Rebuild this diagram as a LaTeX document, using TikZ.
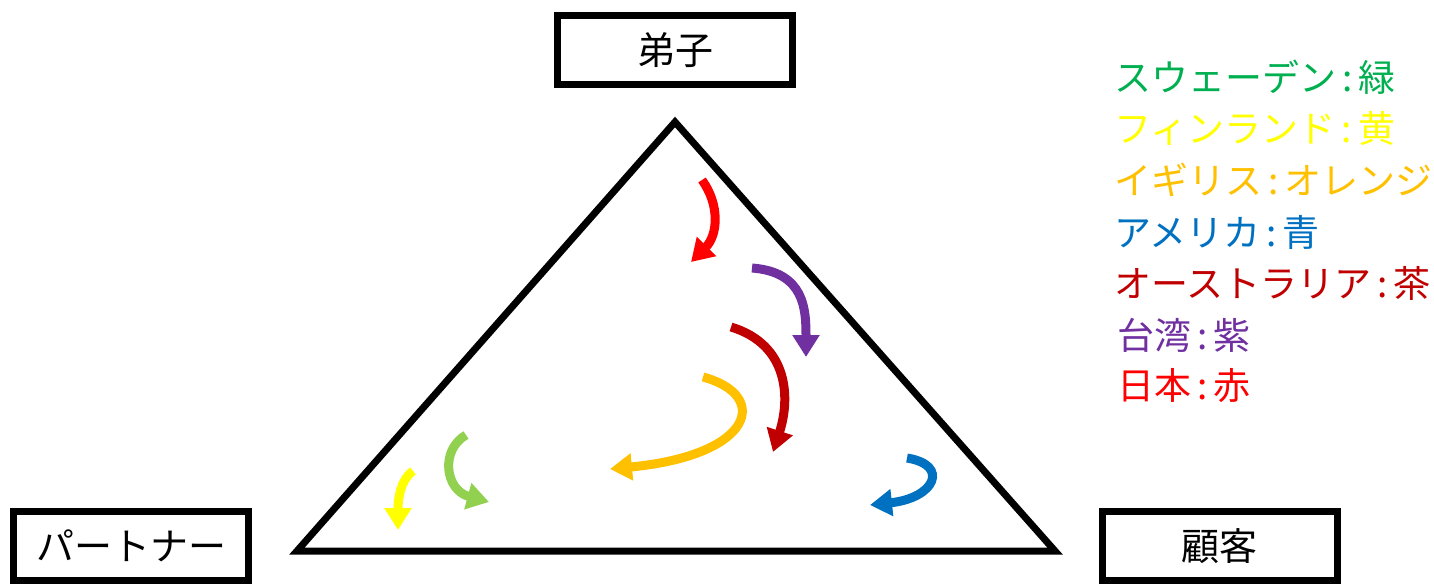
\documentclass[tikz,border=0pt]{standalone}
\usepackage{fontspec}
\setmainfont{Noto Sans CJK JP}
\usetikzlibrary{arrows.meta}
\definecolor{cgreen}{HTML}{00B050}
\definecolor{lgreen}{HTML}{92D050}
\definecolor{cyellow}{HTML}{FFFF00}
\definecolor{corange}{HTML}{FFC000}
\definecolor{cblue}{HTML}{0070C0}
\definecolor{cdred}{HTML}{C00000}
\definecolor{cpurple}{HTML}{7030A0}
\definecolor{cred}{HTML}{FF0000}
\tikzset{
  rolebox/.style={draw=black, line width=7pt, minimum width=235pt, minimum height=69pt, inner sep=0pt, font=\fontsize{38}{44}\selectfont},
  tri/.style={draw=black, line width=7pt, line join=miter},
  flow/.style={line width=9pt, -{Triangle[width=26pt,length=22pt]}},
  legend/.style={anchor=west, inner sep=0pt, font=\fontsize{37}{44}\selectfont}
}
\begin{document}
\begin{tikzpicture}[x=1pt,y=-1pt]
\useasboundingbox (0,0) rectangle (1434,585);
\node[rolebox] (disciple) at (675,50) {弟子};
\node[rolebox] (partner) at (131,546) {パートナー};
\node[rolebox] (customer) at (1219.5,546) {顧客};
\coordinate (apex) at (675,122);
\coordinate (bl) at (297,551);
\coordinate (br) at (1055,551);
\draw[tri] (apex) -- (br) -- (bl) -- cycle;
\coordinate (r1) at (702,180); \coordinate (r2) at (691,262);
\draw[flow, cred] (r1) .. controls (720,205) and (718,235) .. (r2);
\coordinate (p1) at (752,268); \coordinate (p2) at (806,357);
\draw[flow, cpurple] (p1) .. controls (805,272) and (806,310) .. (p2);
\coordinate (d1) at (731,327); \coordinate (d2) at (773,452);
\draw[flow, cdred] (d1) .. controls (790,345) and (790,400) .. (d2);
\coordinate (o1) at (703,377); \coordinate (o2) at (610,469);
\draw[flow, corange] (o1) .. controls (770,395) and (755,455) .. (o2);
\coordinate (y1) at (413,471); \coordinate (y2) at (398,530);
\draw[flow, cyellow] (y1) .. controls (400,480) and (398,500) .. (y2);
\coordinate (g1) at (466,435); \coordinate (g2) at (489,502);
\draw[flow, lgreen] (g1) .. controls (440,450) and (445,490) .. (g2);
\coordinate (b1) at (907,458); \coordinate (b2) at (870,505);
\draw[flow, cblue] (b1) .. controls (950,465) and (935,498) .. (b2);
\node[legend, text=cgreen] (l1) at (1114,77) {スウェーデン\,:\,緑};
\node[legend, text=cyellow] (l2) at (1114,128) {フィンランド\,:\,黄};
\node[legend, text=corange] (l3) at (1114,180) {イギリス\,:\,オレンジ};
\node[legend, text=cblue] (l4) at (1114,232) {アメリカ\,:\,青};
\node[legend, text=cdred] (l5) at (1114,283) {オーストラリア\,:\,茶};
\node[legend, text=cpurple] (l6) at (1117,335) {台湾\,:\,紫};
\node[legend, text=cred] (l7) at (1117,386) {日本\,:\,赤};
\end{tikzpicture}
\end{document}
